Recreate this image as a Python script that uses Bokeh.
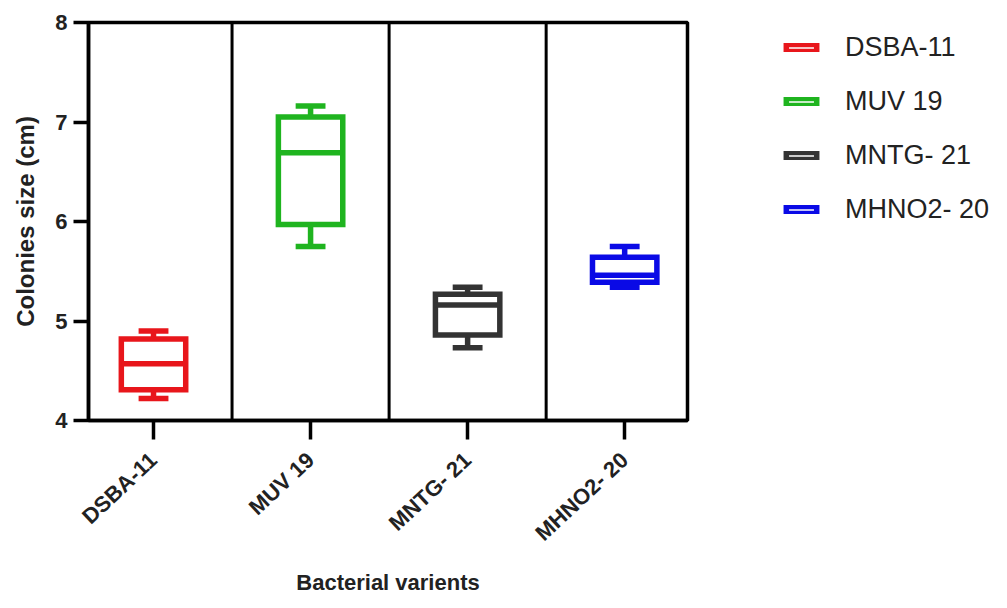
from bokeh.plotting import figure
from bokeh.models import ColumnDataSource, Legend, LegendItem, Span, FixedTicker, Range1d
from bokeh.embed import file_html
from bokeh.resources import INLINE

# ---- data ----
categories = ["DSBA-11", "MUV 19", "MNTG- 21", "MHNO2- 20"]
whisker_low = [4.22, 5.75, 4.73, 5.34]
q1 = [4.31, 5.97, 4.86, 5.39]
median = [4.57, 6.69, 5.16, 5.46]
q3 = [4.82, 7.05, 5.27, 5.64]
whisker_high = [4.90, 7.16, 5.34, 5.75]
colors = ["#e8161b", "#1fb41f", "#333333", "#0a0ae6"]
y_ticks = [4, 5, 6, 7, 8]

BOX_W = 0.41
CAP_W = 0.19
LW = 5.5
FONT = "Liberation Sans"

xs = list(range(len(categories)))
src = ColumnDataSource(dict(
    x=xs,
    left=[x - BOX_W / 2 for x in xs],
    right=[x + BOX_W / 2 for x in xs],
    capl=[x - CAP_W / 2 for x in xs],
    capr=[x + CAP_W / 2 for x in xs],
    lo=whisker_low, q1=q1, med=median, q3=q3, hi=whisker_high,
    color=colors, name=categories,
))

p = figure(frame_width=599, frame_height=398, output_backend="svg", toolbar_location=None,
           x_range=Range1d(-0.414, 3.4), y_range=Range1d(4, 8),
           min_border_left=88, min_border_right=0, min_border_top=22, min_border_bottom=170)

p.background_fill_color = "white"
p.border_fill_color = "white"
p.xgrid.visible = False
p.ygrid.visible = False
p.outline_line_color = "black"
p.outline_line_width = 3.5
p.outline_line_alpha = 1

# separators between categories
for i in range(len(categories) - 1):
    p.add_layout(Span(location=i + 0.5, dimension="height", line_color="black", line_width=3))

# whiskers
p.segment(x0="x", y0="q3", x1="x", y1="hi", source=src, line_color="color", line_width=LW)
p.segment(x0="x", y0="lo", x1="x", y1="q1", source=src, line_color="color", line_width=LW)
p.segment(x0="capl", y0="hi", x1="capr", y1="hi", source=src, line_color="color", line_width=LW)
p.segment(x0="capl", y0="lo", x1="capr", y1="lo", source=src, line_color="color", line_width=LW)
# box
box = p.quad(left="left", right="right", bottom="q1", top="q3", source=src,
             fill_color=None, line_color="color", line_width=LW, line_join="miter")
# median
p.segment(x0="left", y0="med", x1="right", y1="med", source=src, line_color="color", line_width=LW)

# axes
xa = p.xaxis[0]
xa.ticker = FixedTicker(ticks=xs)
xa.major_label_overrides = {i: c for i, c in enumerate(categories)}
xa.major_label_orientation = 0.75
xa.minor_tick_line_color = None
xa.major_tick_in = 0
xa.major_tick_out = 19
xa.major_tick_line_width = 3.5
xa.axis_line_width = 3.5
xa.major_label_text_font = FONT
xa.major_label_text_font_style = "bold"
xa.major_label_text_font_size = "22px"
xa.major_label_text_color = "#222222"
xa.major_label_standoff = 17
xa.axis_label = "Bacterial varients"
xa.axis_label_text_font = FONT
xa.axis_label_text_font_style = "bold"
xa.axis_label_text_font_size = "22px"
xa.axis_label_text_color = "#222222"
xa.axis_label_standoff = 12

ya = p.yaxis[0]
ya.ticker = FixedTicker(ticks=y_ticks)
ya.minor_tick_line_color = None
ya.major_tick_in = 0
ya.major_tick_out = 15
ya.major_tick_line_width = 3.5
ya.axis_line_width = 3.5
ya.major_label_text_font = FONT
ya.major_label_text_font_style = "bold"
ya.major_label_text_font_size = "22px"
ya.major_label_text_color = "#222222"
ya.major_label_standoff = 6
ya.axis_label = "Colonies size (cm)"
ya.axis_label_text_font = FONT
ya.axis_label_text_font_style = "bold"
ya.axis_label_text_font_size = "24px"
ya.axis_label_text_color = "#222222"
ya.axis_label_standoff = 13

# legend
items = [LegendItem(label=c, renderers=[box], index=i) for i, c in enumerate(categories)]
legend = Legend(items=items, location=(95, 195), padding=0, margin=0, spacing=22,
                glyph_width=38, glyph_height=9, label_height=32, label_standoff=25,
                label_text_font=FONT, label_text_font_size="27px", label_text_color="#222222",
                border_line_color=None, background_fill_alpha=0)
p.add_layout(legend, "right")

open("out.html", "w").write(file_html(p, INLINE))
